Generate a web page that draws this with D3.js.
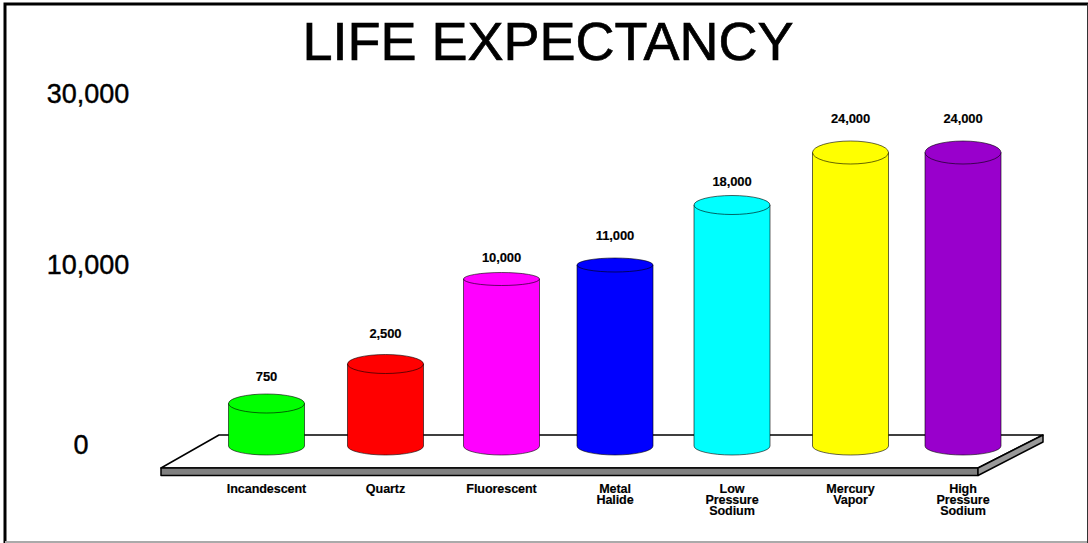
<!DOCTYPE html>
<html>
<head>
<meta charset="utf-8">
<script src="https://cdn.jsdelivr.net/npm/d3@7"></script>
<style>
  html, body { margin: 0; padding: 0; background: #fff; }
  svg { display: block; }
  text { font-family: "Liberation Sans", Arial, sans-serif; fill: #000; }
  .catLabel { font-weight: bold; font-size: 12.6px; letter-spacing: -.1px; stroke: #000; stroke-width: .15px; }
  .valLabel { font-weight: bold; font-size: 13px; letter-spacing: -.1px; stroke: #000; stroke-width: .15px; }
</style>
</head>
<body>
<div id="chart"></div>
<script>
// chart values
var categories = ['Incandescent', 'Quartz', 'Fluorescent', 'Metal Halide', 'Low Pressure Sodium', 'Mercury Vapor', 'High Pressure Sodium'];
var hours = [750, 2500, 10000, 11000, 18000, 24000, 24000];
var axisTicks = [0, 10000, 30000];
var barColors = ['#00ff00', '#ff0000', '#ff00ff', '#0000ff', '#00ffff', '#ffff00', '#9900cc'];

// how the caps are squashed in the original, and how far each number floats above its cap
var capRy = [9.5, 9.5, 6.5, 7, 9.5, 11.5, 11.5];
var labelLift = [17, 21, 15, 22, 14, 22, 22];

var width = 1088;
var height = 543;
var barWidth = 76;
var baseY = 446;
var baseRy = 9;

var svg = d3.select('#chart').append('svg')
    .attr('width', width)
    .attr('height', height);

// set the scales
// the original's spacing and height axis aren't even, so these are calibrated off the picture
var xScale = d3.scaleOrdinal()
    .domain(categories)
    .range([266.5, 385.5, 501.5, 615, 732, 850.5, 963]);
var yBar = d3.scaleLinear()
    .domain([0, 750, 2500, 10000, 11000, 18000, 24000])
    .range([baseY, 403.5, 364, 279, 265, 205, 152.5]);
var yAxis = d3.scaleLinear()
    .domain([0, 10000, 30000])
    .range([444, 264, 93]);

// frame
svg.append('path')
    .attr('d', 'M5,543 V4 H1088')
    .attr('fill', 'none')
    .attr('stroke', '#000')
    .attr('stroke-width', 3);
svg.append('path')
    .attr('d', 'M5,542 H1088')
    .attr('stroke', '#aaa')
    .attr('stroke-width', 2);
svg.append('path')
    .attr('d', 'M1087.5,4 V543')
    .attr('stroke', '#333')
    .attr('stroke-width', 1);

// title
svg.append('text')
    .attr('x', 548)
    .attr('y', 60)
    .attr('text-anchor', 'middle')
    .attr('stroke', '#000')
    .attr('stroke-width', .7)
    .style('font-size', '54px')
    .text('LIFE EXPECTANCY');

// axis labels only, no line
var axis = svg.append('g')
    .attr('transform', 'translate(88,0)')
    .call(d3.axisLeft(yAxis).tickValues(axisTicks).tickSize(0).tickFormat(d3.format(',')));
axis.select('.domain').remove();
axis.selectAll('text')
    .attr('x', function(d) { return d === 0 ? -7 : 0; })
    .attr('dy', '.36em')
    .attr('text-anchor', 'middle')
    .attr('stroke', '#000')
    .attr('stroke-width', .4)
    .style('font-family', '"Liberation Sans", Arial, sans-serif')
    .style('font-size', '27px');

// floor
var floor = svg.append('g')
    .attr('stroke', '#000')
    .attr('stroke-linejoin', 'round');
floor.append('path')
    .attr('d', 'M161,468 L219,435 H1043 L978,468 Z')
    .attr('fill', '#fff')
    .attr('stroke-width', 1.5);
floor.append('path')
    .attr('d', 'M161,468 H978 V475.5 H161 Z')
    .attr('fill', '#808080')
    .attr('stroke-width', 1.5);
floor.append('path')
    .attr('d', 'M978,468 L1043,435 V442 L978,475.5 Z')
    .attr('fill', '#999')
    .attr('stroke-width', 1.5);

// cylinders
var bars = svg.selectAll('.bar')
    .data(hours)
    .enter().append('g')
    .attr('class', 'bar');

bars.append('path')
    .attr('fill', function(d, i) { return barColors[i]; })
    .attr('stroke', '#000')
    .attr('stroke-opacity', .6)
    .attr('stroke-width', 1)
    .attr('d', function(d, i) {
        var left = xScale(categories[i]) - barWidth / 2;
        var right = left + barWidth;
        return 'M' + left + ',' + yBar(d) +
            ' V' + baseY +
            ' A' + (barWidth / 2) + ',' + baseRy + ' 0 0 0 ' + right + ',' + baseY +
            ' V' + yBar(d) + ' Z';
    });

bars.append('ellipse')
    .attr('cx', function(d, i) { return xScale(categories[i]); })
    .attr('cy', function(d) { return yBar(d); })
    .attr('rx', barWidth / 2)
    .attr('ry', function(d, i) { return capRy[i]; })
    .attr('fill', function(d, i) { return barColors[i]; })
    .attr('stroke', '#000')
    .attr('stroke-opacity', .6)
    .attr('stroke-width', 1);

// numbers above the caps
bars.append('text')
    .attr('class', 'valLabel')
    .attr('x', function(d, i) { return xScale(categories[i]); })
    .attr('y', function(d, i) { return yBar(d) - capRy[i] - labelLift[i] + 4; })
    .attr('text-anchor', 'middle')
    .text(function(d) { return d3.format(',')(d); });

// category names, stacked one word per line
svg.selectAll('.catLabel')
    .data(categories)
    .enter().append('text')
    .attr('class', 'catLabel')
    .attr('text-anchor', 'middle')
    .each(function(d) {
        var words = d.split(' ');
        var t = d3.select(this);
        words.forEach(function(w, j) {
            t.append('tspan')
                .attr('x', xScale(d))
                .attr('y', 493 + j * 11)
                .text(w);
        });
    });
</script>
</body>
</html>
